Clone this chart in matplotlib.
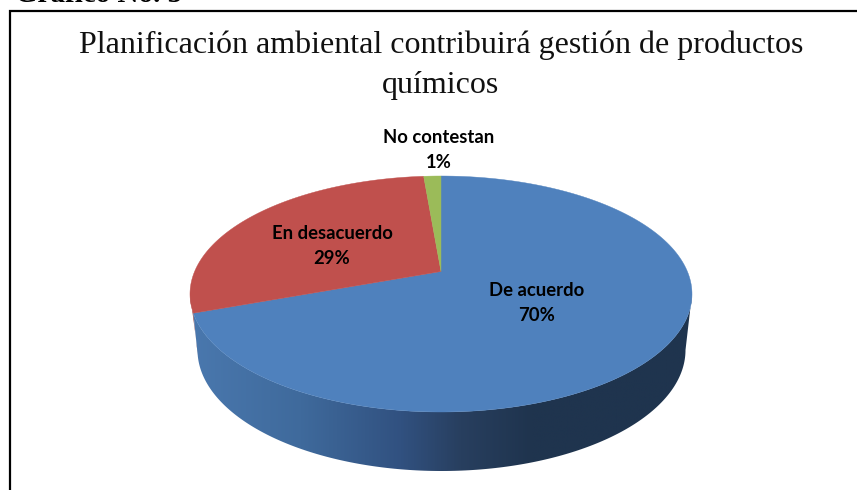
# -*- coding: utf-8 -*-
import matplotlib
matplotlib.use("Agg")
import matplotlib.pyplot as plt
from matplotlib.colors import LinearSegmentedColormap
from matplotlib.patches import Polygon
import numpy as np

categories = ["De acuerdo", "En desacuerdo", "No contestan"]
percent_labels = [70, 29, 1]
# shares as they look on the tilted pie, perspective stretches the front
drawn_shares = [72.4, 26.5, 1.1]
colors = ["#4F81BD", "#C0504D", "#9BBB59"]
title = "Planificación ambiental contribuirá gestión de productos\nquímicos"
caption = "Gráfico No. 5"

W, H = 857, 490

# pie geometry in picture pixels
cx, cy = 441, 294
rx, ry = 251, 118
apex_y = 271.5
low_cx, low_cy = 441.5, 350
low_rx, low_ry = 244, 121


def top_arc(a0, a1):
    t = np.radians(np.linspace(a0, a1, 200))
    return np.column_stack([cx + rx * np.cos(t), cy - ry * np.sin(t)])


def low_arc(a0, a1):
    t = np.radians(np.linspace(a0, a1, 200))
    return np.column_stack([low_cx + low_rx * np.cos(t), low_cy - low_ry * np.sin(t)])


fig = plt.figure(figsize=(W / 100, H / 100), dpi=100, facecolor="white")
ax = fig.add_axes([0, 0, 1, 1])
ax.set_xlim(0, W)
ax.set_ylim(H, 0)
ax.axis("off")

# outer frame, bottom and right are cut off in the picture
ax.plot([10, 10, W], [H, 11, 11], color="black", lw=1.6, solid_joinstyle="miter")
ax.text(15, 2.5, caption, family="Liberation Serif", fontsize=21, fontweight="bold",
        ha="left", va="baseline", color="black", clip_on=False)
ax.text(441, 65, title, family="Liberation Serif", fontsize=23, ha="center", va="center",
        linespacing=1.5, color="#111111")

# edge of the wedges, clockwise from 12 o'clock
edges = 90 - np.cumsum([0] + drawn_shares) * 3.6
blue_end = edges[1] + 360

# side wall
red_wall = np.vstack([top_arc(180, blue_end), low_arc(blue_end - 6, 180)])
ax.add_patch(Polygon(red_wall, closed=True, color="#8C3A38", lw=0, zorder=2))

blue_wall = np.vstack([top_arc(blue_end, 360), low_arc(360, blue_end - 6)])
patch = Polygon(blue_wall, closed=True, facecolor="none", edgecolor="none", zorder=3)
ax.add_patch(patch)
wall_cmap = LinearSegmentedColormap.from_list(
    "wall", [(0, "#4A78AE"), (0.22, "#3F6A9C"), (0.42, "#315180"), (0.54, "#283F5F"), (0.68, "#1F344E"), (1, "#1F344E")])
img = ax.imshow(np.linspace(0, 1, 256).reshape(1, -1), extent=[190, 692, 475, 290],
                cmap=wall_cmap, aspect="auto", zorder=3)
img.set_clip_path(patch)
ax.set_xlim(0, W)
ax.set_ylim(H, 0)

# top face
for i, c in enumerate(colors):
    arc = top_arc(edges[i], edges[i + 1])
    pts = np.vstack([[cx, apex_y], arc])
    ax.add_patch(Polygon(pts, closed=True, facecolor=c, edgecolor=c, lw=0.3, zorder=4))

# labels
label_pos = [(537, 303), (332, 246), (439, 150)]
for name, pct, (x, y) in zip(categories, percent_labels, label_pos):
    ax.text(x, y, f"{name}\n{pct}%", family="Lato", fontweight="bold", fontsize=13.3,
            ha="center", va="center", linespacing=1.62, color="black", zorder=5)

fig.savefig("out.png", dpi=100)
